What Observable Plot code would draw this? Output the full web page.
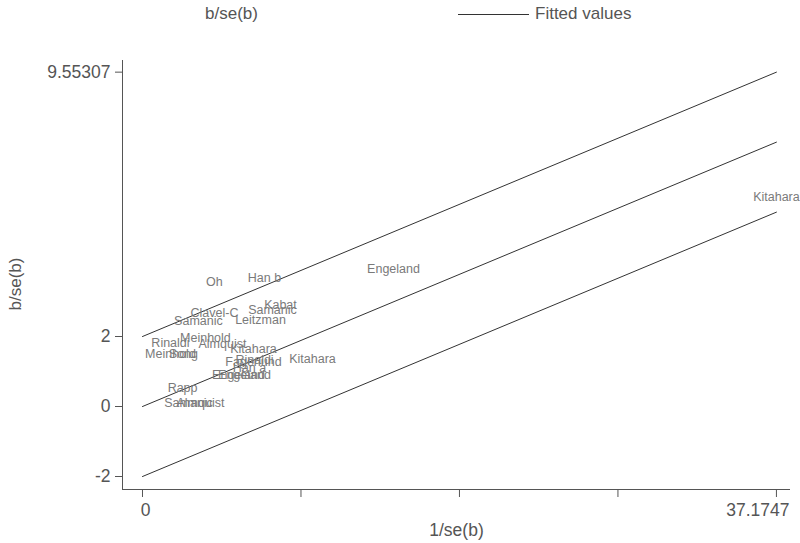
<!DOCTYPE html>
<html>
<head>
<meta charset="utf-8">
<script src="https://cdn.jsdelivr.net/npm/d3@7"></script>
<script src="https://cdn.jsdelivr.net/npm/@observablehq/plot@0.6"></script>
<style>
  body { margin: 0; background: #fff; font-family: "Liberation Sans", Arial, sans-serif; }
  #wrap { position: relative; width: 800px; height: 543px; }
  #legend { position: absolute; left: 0; top: 0; width: 800px; height: 30px; font-size: 17px; color: #555; }
  #legend .t1 { position: absolute; left: 205px; top: 4px; }
  #legend .ln { position: absolute; left: 458px; top: 14px; width: 71px; height: 0; border-top: 1px solid #333; }
  #legend .t2 { position: absolute; left: 535px; top: 4px; }
</style>
</head>
<body>
<div id="wrap">
  <div id="chart"></div>
  <div id="legend"><span class="t1">b/se(b)</span><span class="ln"></span><span class="t2">Fitted values</span></div>
</div>
<script>
// study labels and positions (x = 1/se(b), y = b/se(b))
const studies = ["Oh","Han b","Engeland","Kabat","Samanic","Clavel-C","Samanic","Leitzman",
  "Meinhold","Almquist","Rinaldi","Meinhold","Song","Kitahara","Kitahara","Rinaldi",
  "Fagerlund","Han a","Engeland","Engeland","Rapp","Samanic","Almquist","Kitahara"];
const precision = [4.22,7.15,14.72,8.09,7.62,4.22,3.28,6.92,
  3.69,4.69,1.64,1.64,2.40,6.51,9.97,6.57,
  6.51,6.27,5.63,5.98,2.35,2.70,3.40,37.1747];
const zscore = [3.57,3.66,3.94,2.91,2.77,2.66,2.44,2.47,
  1.96,1.79,1.81,1.50,1.50,1.63,1.37,1.34,
  1.26,1.09,0.89,0.89,0.53,0.11,0.11,6.00];

// fitted line endpoints and ±2 bands
const fitX = [0, 37.1747];
const fitY = [0, 7.55307];
const bandOffsets = [2, 0, -2];

const yTicks = [-2, 0, 2, 9.55307];
const xTicks = [0, 9.293675, 18.58735, 27.881025, 37.1747];
const xTickFirst = [{v: 0, t: "0"}];
const xTickLast = [{v: 37.1747, t: "37.1747"}];

const points = studies.map((s, i) => ({s, x: precision[i], y: zscore[i]}));
const lines = bandOffsets.flatMap(o => fitX.map((x, i) => ({g: o, x, y: fitY[i] + o})));

const xDom = [-1.1727, 38.0];
const yDom = [-2.371, 9.886];
const grey = "#555";

const chart = Plot.plot({
  width: 800, height: 543,
  marginLeft: 122, marginRight: 10, marginTop: 60, marginBottom: 54,
  style: {fontFamily: "'Liberation Sans', Arial, sans-serif", color: grey, background: "white"},
  x: {domain: xDom},
  y: {domain: yDom},
  marks: [
    Plot.ruleX([xDom[0]], {stroke: grey}),
    Plot.ruleY([yDom[0]], {stroke: grey}),
    Plot.axisY({ticks: yTicks, tickFormat: d => String(d), tickSize: 7, tickPadding: 5, fontSize: 17.5, label: null, stroke: grey}),
    Plot.axisX({ticks: xTicks, tickFormat: () => "", tickSize: 8, label: null, stroke: grey}),
    Plot.text(xTickFirst, {x: "v", frameAnchor: "bottom", lineAnchor: "middle", text: "t", dy: 21, fontSize: 17.5, fill: grey, textAnchor: "middle", dx: 3}),
    Plot.text(xTickLast, {x: "v", frameAnchor: "bottom", lineAnchor: "middle", text: "t", dy: 21, fontSize: 17.5, fill: grey, textAnchor: "end", dx: 13}),
    Plot.text(["1/se(b)"], {frameAnchor: "bottom", lineAnchor: "middle", dy: 41, fontSize: 17.5, fill: grey}),
    Plot.text(["b/se(b)"], {frameAnchor: "left", textAnchor: "middle", lineAnchor: "middle", dx: -107, dy: 9, rotate: -90, fontSize: 17, fill: grey}),
    Plot.line(lines, {x: "x", y: "y", z: "g", stroke: "#333", strokeWidth: 1}),
    Plot.text(points, {x: "x", y: "y", text: "s", fontSize: 12.5, fill: "#7a7a7a"})
  ]
});
document.getElementById("chart").appendChild(chart);
</script>
</body>
</html>
